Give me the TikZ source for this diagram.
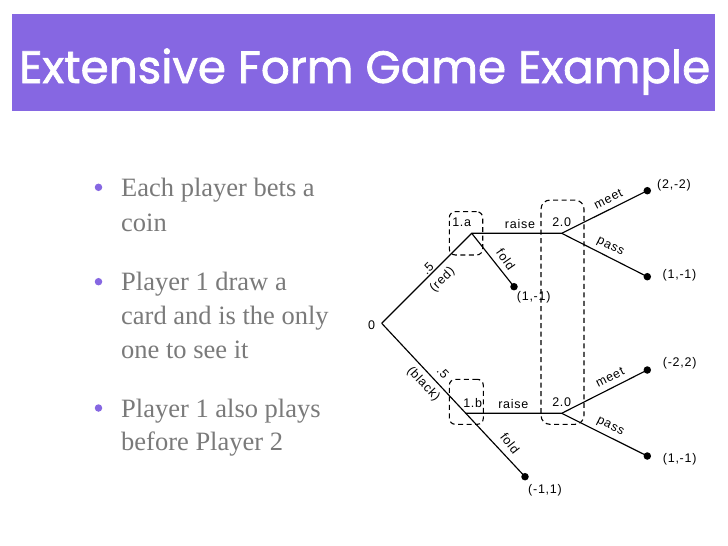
\documentclass[tikz,border=0pt]{standalone}
\usepackage{fontspec}
\setmainfont{Liberation Serif}
\newfontfamily\titlefont[FakeBold=1.6]{Poppins}
\newfontfamily\labfont[LetterSpace=6]{Liberation Sans}
\definecolor{barcol}{RGB}{134,103,226}
\definecolor{txtcol}{RGB}{122,122,122}
\begin{document}
\begin{tikzpicture}[x=1pt,y=-1pt,
  edge/.style={line width=1.15pt},
  dot/.style={circle,fill=black,inner sep=0pt,minimum size=7.5pt},
  info/.style={draw,dash pattern=on 5pt off 3.5pt,line width=1.1pt,rounded corners=6pt,inner sep=0pt},
  lab/.style={font=\labfont\fontsize{12.5}{14}\selectfont,inner sep=0pt},
  bul/.style={font=\fontsize{26.5}{32}\selectfont,text=txtcol,anchor=base west,inner sep=0pt},
  bdot/.style={circle,fill=barcol,inner sep=0pt,minimum size=7.5pt}
]
\useasboundingbox (0,0) rectangle (728,546);
\fill[white] (0,0) rectangle (728,546);
% title bar
\node[fill=barcol,minimum width=703pt,minimum height=97pt,anchor=north west,inner sep=0pt] (bar) at (12,14) {};
\node[text=white,anchor=base west,inner sep=0pt] (title) at (19,83)
  {\resizebox{691pt}{34.5pt}{\titlefont Extensive Form Game Example}};
% bullets
\node[bdot] (b1) at (98.5,187.3) {};
\node[bul] (l1) at (121,196.7) {Each player bets a};
\node[bul] (l2) at (121,231.5) {coin};
\node[bdot] (b2) at (98.5,281.7) {};
\node[bul] (l3) at (121,290.5) {Player 1 draw a};
\node[bul] (l4) at (121,324.5) {card and is the only};
\node[bul] (l5) at (121,358.5) {one to see it};
\node[bdot] (b3) at (98.5,408) {};
\node[bul] (l6) at (121,417) {Player 1 also plays};
\node[bul] (l7) at (121,450.5) {before Player 2};
% information sets
\node[info,minimum width=33.4pt,minimum height=43.3pt] (ia) at (466,233.3) {};
\node[info,minimum width=34pt,minimum height=45pt] (ib) at (466.3,401.8) {};
\node[info,minimum width=43pt,minimum height=224.3pt,rounded corners=9pt] (ic) at (562.5,312.2) {};
% tree
\coordinate (n0) at (381.7,323.3);
\coordinate (n1a) at (471.7,233.3);
\coordinate (n2a) at (561.7,233.3);
\node[dot] (ta) at (647.3,190.7) {};
\node[dot] (tb) at (647.3,276.7) {};
\node[dot] (tf) at (514,286.7) {};
\coordinate (n1b) at (465.8,413.3);
\coordinate (n2b) at (561.7,413.3);
\node[dot] (ba) at (647.3,370) {};
\node[dot] (bb) at (647.3,456) {};
\node[dot] (bf) at (525,476.7) {};
\draw[edge] (n0) -- (n1a) -- (n2a) -- (ta.center);
\draw[edge] (n2a) -- (tb.center);
\draw[edge] (n1a) -- (tf.center);
\draw[edge] (n0) -- (n1b) -- (bf.center);
\draw[edge] (n1b) -- (n2b) -- (ba.center);
\draw[edge] (n2b) -- (bb.center);
% labels
\node[lab] (l0) at (371.7,325) {0};
\node[lab] (la1) at (461.7,222.7) {1.a};
\node[lab] (lra) at (520,224.3) {raise};
\node[lab] (l2a) at (561.7,221.7) {2.0};
\node[lab] (lb1) at (472.7,402.7) {1.b};
\node[lab] (lrb) at (513.3,404) {raise};
\node[lab] (l2b) at (561.7,401.7) {2.0};
\node[lab] (pa) at (674,185) {(2,-2)};
\node[lab] (pb) at (679.5,275) {(1,-1)};
\node[lab] (pf) at (533.7,297.7) {(1,-1)};
\node[lab] (qa) at (679.7,363.3) {(-2,2)};
\node[lab] (qb) at (679.7,459.3) {(1,-1)};
\node[lab] (qf) at (545,490) {(-1,1)};
\node[lab,rotate=27] (ma) at (608.3,199) {meet};
\node[lab,rotate=-27] (sa) at (610,247.2) {pass};
\node[lab,rotate=-55] (fa) at (505.8,259.2) {fold};
\node[lab,rotate=45] (pra) at (427.7,268.3) {.5};
\node[lab,rotate=45] (red) at (442.5,280) {(red)};
\node[lab,rotate=27] (mb) at (610,377.5) {meet};
\node[lab,rotate=-27] (sb) at (610,426.7) {pass};
\node[lab,rotate=-52] (fb) at (510,443.3) {fold};
\node[lab,rotate=-47] (prb) at (443,372.5) {.5};
\node[lab,rotate=-47] (blk) at (423.3,384.3) {(black)};
\end{tikzpicture}
\end{document}
